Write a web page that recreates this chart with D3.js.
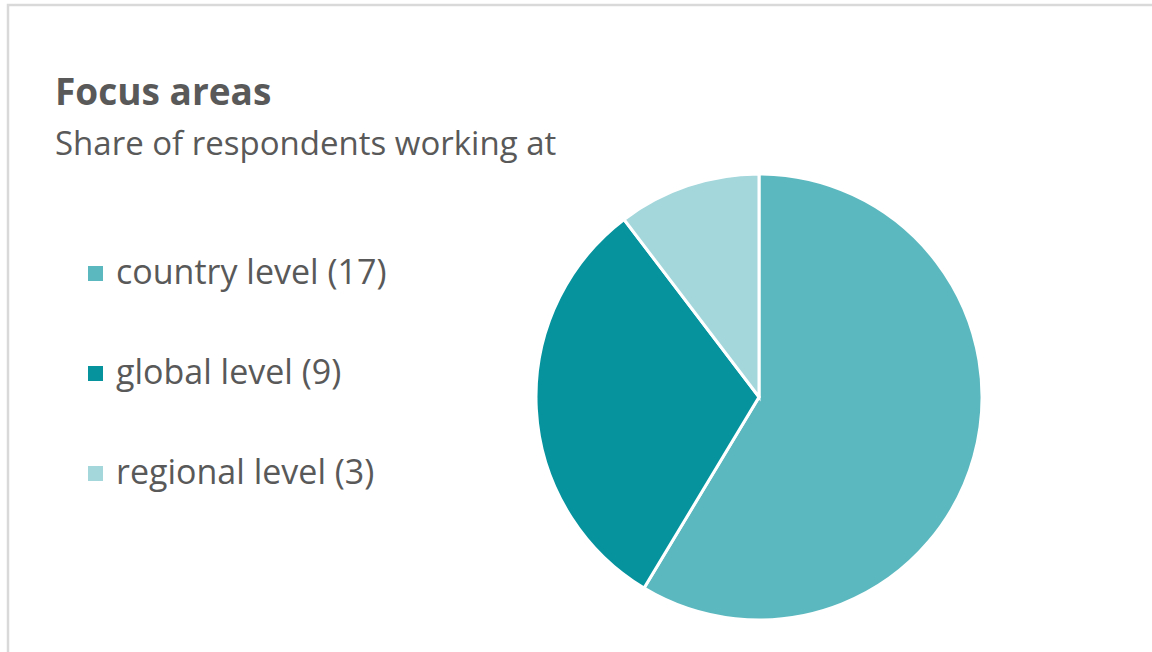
<!DOCTYPE html>
<html>
<head>
<meta charset="utf-8">
<script src="https://cdn.jsdelivr.net/npm/d3@7"></script>
<style>
  body { margin: 0; background: #fff; }
  text { font-family: "Open Sans", sans-serif; fill: #595959; }
</style>
</head>
<body>
<div id="chart"></div>
<script>
var categories = ["country level", "global level", "regional level"];
var counts = [17, 9, 3];
var colors = ["#5cb8bf", "#06939e", "#a3d7dc"];

var width = 1152, height = 652;

var svg = d3.select("#chart")
  .append("svg")
    .attr("width", width)
    .attr("height", height);

// chart frame, runs off the right and bottom edge
svg.append("rect")
  .attr("x", 8)
  .attr("y", 5)
  .attr("width", 1200)
  .attr("height", 700)
  .style("fill", "none")
  .style("stroke", "#d9d9d9")
  .style("stroke-width", 2.5)

svg.append("text")
  .attr("x", 55)
  .attr("y", 105)
  .attr("font-size", "37px")
  .attr("font-weight", "bold")
  .text("Focus areas")

svg.append("text")
  .attr("x", 55)
  .attr("y", 155)
  .attr("font-size", "33px")
  .text("Share of respondents working at")

var data = categories.map(function(c, i) { return {name: c, value: counts[i]}; });

var color = d3.scaleOrdinal()
  .domain(categories)
  .range(colors);

var pie = d3.pie()
  .sort(null)
  .value(function(d) { return d.value; });

var arc = d3.arc()
  .innerRadius(0)
  .outerRadius(223);

var g = svg.append("g")
  .attr("transform", "translate(759,397)");

g.selectAll("path")
  .data(pie(data))
  .enter()
  .append("path")
    .attr("d", arc)
    .style("fill", function(d) { return color(d.data.name); })
    .style("stroke", "white")
    .style("stroke-width", 3)

// legend
var legendY = d3.scalePoint()
  .domain(categories)
  .range([273, 473]);

var legend = svg.append("g")
  .selectAll("g")
  .data(data)
  .enter()
  .append("g")
    .attr("transform", function(d) { return "translate(88," + legendY(d.name) + ")"; });

legend.append("rect")
  .attr("x", 0)
  .attr("y", -7)
  .attr("width", 15)
  .attr("height", 15)
  .style("fill", function(d) { return color(d.name); })

legend.append("text")
  .attr("x", 28)
  .attr("y", 11)
  .attr("font-size", "34px")
  .text(function(d) { return d.name + " (" + d.value + ")"; })
</script>
</body>
</html>
